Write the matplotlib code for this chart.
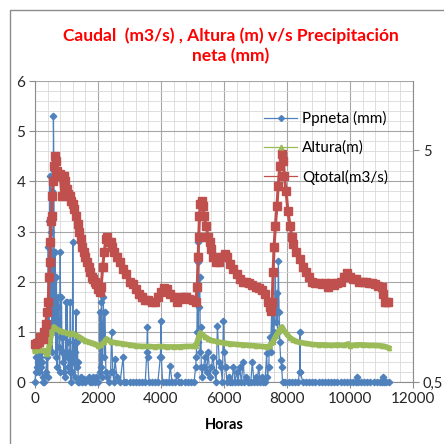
import numpy as np
import matplotlib.pyplot as plt
from matplotlib.patches import Rectangle
from matplotlib.lines import Line2D
from matplotlib.ticker import MultipleLocator, FixedLocator, NullLocator

plt.rcParams['font.family'] = ['Lato', 'DejaVu Sans']

# Ppneta (mm) - hours / values
ppn_h = [0, 20, 40, 60, 80, 100, 120, 140, 160, 180, 200, 220, 240, 260, 300, 340, 380, 400,
         420, 440, 460, 475, 490, 500, 510, 525, 540, 560, 575, 585, 600, 620, 640, 660, 680,
         700, 720, 740, 760, 780, 800, 820, 840, 860, 880, 900, 920, 940, 960, 980, 1000,
         1020, 1040, 1060, 1080, 1100, 1120, 1140, 1160, 1180, 1200, 1220, 1240, 1260, 1280,
         1300, 1320, 1340, 1360, 1380, 1400, 1450, 1500, 1550, 1600, 1700, 1750, 1800, 1850,
         1900, 1950, 2000, 2050, 2063, 2090, 2110, 2130, 2169, 2200, 2222, 2250, 2300, 2350,
         2400, 2434, 2470, 2500, 2540, 2600, 2700, 2800, 2830, 2900, 3000, 3100, 3200, 3300,
         3400, 3500, 3550, 3570, 3580, 3620, 3700, 3800, 3900, 3980, 4000, 4010, 4050, 4150,
         4250, 4290, 4350, 4450, 4520, 4560, 4650, 4750, 4850, 4950, 5050, 5100, 5120, 5140,
         5160, 5180, 5190, 5210, 5230, 5250, 5260, 5280, 5300, 5350, 5400, 5450, 5500, 5550,
         5600, 5650, 5700, 5750, 5790, 5850, 5900, 5950, 5980, 6010, 6050, 6100, 6150, 6200,
         6250, 6300, 6350, 6400, 6450, 6500, 6550, 6610, 6650, 6700, 6750, 6800, 6850, 6900,
         6950, 7000, 7050, 7100, 7150, 7200, 7250, 7300, 7355, 7380, 7420, 7450, 7480, 7510,
         7530, 7560, 7590, 7630, 7650, 7680, 7700, 7725, 7750, 7770, 7800, 7830, 7860, 7950,
         8050, 8150, 8250, 8350, 8400, 8413, 8420, 8500, 8600, 8700, 8800, 8900, 9000, 9100,
         9200, 9300, 9400, 9500, 9600, 9700, 9800, 9900, 10000, 10100, 10200, 10212, 10250,
         10350, 10450, 10550, 10650, 10750, 10850, 10950, 11000, 11037, 11080, 11150, 11230]
ppn_mm = [0, 0.2, 0.5, 0.3, 0.6, 0.4, 0.5, 0.2, 0.5, 0.3, 0.6, 0.4, 0.1, 0, 0, 0.2, 0.5, 0.1,
          2.7, 0.9, 3.2, 4.1, 1.5, 3.0, 2.5, 3.8, 0.6, 2.6, 1.2, 5.3, 4.2, 1.0, 2.6, 0.5, 2.1,
          0.3, 1.5, 1.7, 0.7, 0.2, 2.6, 0.9, 1.7, 0.6, 0.4, 0.9, 0.2, 0.6, 0.1, 1.6, 0.5,
          1.6, 0.8, 0.3, 0.6, 0.2, 1.6, 0, 0.5, 0.2, 2.8, 0.4, 0.8, 0.1, 0.6,
          1.4, 0.3, 0.8, 0.4, 0, 0, 0.1, 0, 0.05, 0, 0.1, 0, 0, 0.1,
          0, 0.1, 0, 0.2, 1.4, 0.3, 1.6, 0.1, 1.7, 0.5, 1.4, 0.2, 0.1, 0,
          0.2, 1.0, 0.2, 0, 0.45, 0.1, 0, 0.5, 0, 0, 0, 0, 0, 0,
          0, 0, 0.6, 1.1, 0.5, 0, 0, 0, 0, 0.5, 1.22, 0.5, 0, 0,
          0, 0.32, 0, 0, 0.13, 0, 0, 0, 0, 0, 0, 0.3, 0.5, 1.0,
          2.4, 0.8, 2.8, 1.5, 2.1, 0.6, 1.1, 0.3, 0.1, 0.3, 0.5, 0.2, 0.6, 0.1,
          0.3, 0.5, 0.2, 0, 1.12, 0.4, 0.3, 0, 1.22, 0.6, 0.3, 0, 0.1, 0,
          0, 0.3, 0, 0.2, 0, 0.3, 0, 0.4, 0, 0.1, 0, 0, 0, 0.4,
          0, 0.1, 0, 0.3, 0, 0.1, 0, 0, 0.57, 0.1, 0.3, 0.9, 0.6, 1.37,
          0.8, 1.5, 1.0, 2.2, 1.2, 1.77, 1.0, 2.41, 1.4, 0.8, 0.44, 0.3, 0, 0,
          0, 0, 0, 0, 0.2, 1.0, 0.2, 0, 0, 0, 0, 0, 0, 0,
          0, 0, 0, 0, 0, 0, 0, 0, 0, 0, 0, 0.1, 0,
          0, 0, 0, 0, 0, 0, 0, 0, 0.1, 0, 0, 0]

# Altura (m)
alt_h = [0, 100, 200, 300, 370, 420, 470, 530, 600, 700, 800, 900, 1000, 1100, 1200, 1300,
         1400, 1500, 1600, 1700, 1800, 1900, 2000, 2100, 2200, 2275, 2400, 2600, 2800, 3000,
         3200, 3400, 3600, 3800, 4000, 4200, 4400, 4600, 4800, 5000, 5100, 5150, 5200, 5250,
         5300, 5400, 5500, 5600, 5800, 6000, 6200, 6400, 6600, 6800, 7000, 7200, 7350, 7450,
         7550, 7650, 7750, 7840, 7900, 8000, 8100, 8200, 8300, 8400, 8600, 8800, 9000, 9200,
         9400, 9600, 9800, 9950, 10000, 10200, 10400, 10600, 10800, 11000, 11100, 11230]
alt_m = [0.62, 0.63, 0.63, 0.63, 0.55, 0.6, 0.8, 1.0, 1.1, 1.05, 1.02, 1.0, 0.98, 0.96, 0.97, 0.93,
         0.9, 0.86, 0.82, 0.8, 0.78, 0.76, 0.72, 0.74, 0.8, 0.86, 0.8, 0.78, 0.76, 0.74,
         0.72, 0.71, 0.71, 0.7, 0.71, 0.7, 0.7, 0.7, 0.71, 0.71, 0.72, 0.8, 0.9, 0.98,
         0.95, 0.9, 0.86, 0.83, 0.8, 0.78, 0.76, 0.75, 0.74, 0.73, 0.72, 0.71, 0.7, 0.72,
         0.8, 0.92, 1.02, 1.1, 1.03, 0.95, 0.88, 0.84, 0.81, 0.79, 0.77, 0.75, 0.74, 0.74,
         0.73, 0.74, 0.73, 0.76, 0.72, 0.74, 0.74, 0.73, 0.73, 0.72, 0.71, 0.68]

# Qtotal (m3/s)
q_h = [0, 60, 120, 160, 200, 250, 300, 340, 380, 420, 450, 470, 490, 510, 530, 550, 570, 600,
       630, 660, 690, 720, 760, 800, 850, 880, 920, 960, 1000, 1050, 1100, 1150, 1200, 1250,
       1300, 1350, 1400, 1450, 1500, 1550, 1600, 1650, 1700, 1750, 1800, 1850, 1900, 1950,
       2000, 2050, 2100, 2150, 2200, 2250, 2300, 2350, 2400, 2450, 2500, 2600, 2700, 2800,
       2900, 3000, 3100, 3200, 3300, 3400, 3500, 3600, 3700, 3800, 3900, 4000, 4100, 4200,
       4300, 4400, 4500, 4600, 4700, 4800, 4900, 5000, 5100, 5150, 5180, 5200, 5220, 5250,
       5290, 5330, 5380, 5430, 5500, 5550, 5600, 5660, 5750, 5850, 5950, 6030, 6100, 6200,
       6300, 6400, 6500, 6600, 6700, 6800, 6900, 7000, 7100, 7200, 7300, 7400, 7460, 7500,
       7530, 7560, 7590, 7630, 7680, 7720, 7770, 7830, 7880, 7920, 7970, 8030, 8100, 8150,
       8200, 8300, 8400, 8500, 8600, 8700, 8800, 8900, 9000, 9100, 9200, 9300, 9400, 9500,
       9600, 9700, 9800, 9900, 10000, 10100, 10200, 10300, 10400, 10500, 10600, 10700,
       10800, 10900, 11000, 11050, 11100, 11150, 11200]
q_m3s = [0.75, 0.78, 0.8, 0.9, 0.85, 0.85, 1.0, 1.15, 1.4, 1.6, 2.1, 2.4, 2.8, 3.2, 3.3, 3.7, 4.0, 4.3,
         4.5, 4.4, 4.2, 4.1, 4.1, 4.15, 3.7, 4.1, 4.1, 4.0, 3.85, 3.75, 3.7, 3.6, 3.55, 3.45,
         3.3, 3.15, 3.0, 2.85, 2.7, 2.6, 2.5, 2.4, 2.3, 2.2, 2.1, 2.05, 2.0, 1.95,
         1.85, 1.8, 1.9, 2.3, 2.6, 2.85, 2.9, 2.8, 2.8, 2.7, 2.6, 2.5, 2.4, 2.25,
         2.15, 2.0, 1.95, 1.85, 1.75, 1.7, 1.63, 1.63, 1.6, 1.6, 1.7, 1.8, 1.87, 1.85,
         1.75, 1.7, 1.6, 1.65, 1.7, 1.7, 1.65, 1.63, 1.6, 1.9, 2.5, 2.9, 3.3, 3.55,
         3.6, 3.5, 3.3, 3.1, 2.9, 2.8, 2.65, 2.5, 2.4, 2.4, 2.5, 2.56, 2.5, 2.35,
         2.25, 2.15, 2.05, 2.0, 2.0, 1.97, 1.93, 1.9, 1.88, 1.83, 1.75, 1.6, 1.5, 1.42,
         1.6, 2.2, 2.7, 3.1, 3.5, 3.9, 4.3, 4.55, 4.4, 4.1, 3.8, 3.4, 3.1, 2.9,
         2.76, 2.6, 2.45, 2.3, 2.2, 2.1, 2.0, 1.97, 1.97, 1.95, 1.97, 1.9, 1.97, 1.93,
         1.97, 2.0, 2.1, 2.17, 2.1, 2.05, 2.05, 2.0, 2.0, 2.0, 1.97, 1.97,
         1.95, 1.92, 1.9, 1.75, 1.6, 1.6, 1.6]

blue, green, red = '#4F81BD', '#9BBB59', '#C0504D'

fig = plt.figure(figsize=(4.44, 4.44), dpi=100)
ax = fig.add_axes([35 / 444, 1 - 382 / 444, 378 / 444, 301 / 444])

# chart area border (Excel style)
fig.patches.append(Rectangle((10 / 444, -0.05), 1.2, 1 - 10 / 444 + 0.05, transform=fig.transFigure,
                             fill=False, edgecolor='#8c8c8c', linewidth=1.0))

ax.plot(ppn_h, ppn_mm, color=blue, lw=0.9, marker='D', ms=3.3, mec=blue,
        zorder=3, clip_on=False)
ax.plot(alt_h, alt_m, color=green, lw=4, marker='^', ms=3, mec=green,
        zorder=4, clip_on=False)
ax.plot(q_h, q_m3s, color=red, lw=2.2, marker='s', ms=6, mec=red,
        zorder=5, clip_on=False)

ax.set_xlim(0, 12000)
ax.set_ylim(0, 6)
ax.xaxis.set_major_locator(MultipleLocator(2000))
ax.xaxis.set_minor_locator(MultipleLocator(400))
ax.yaxis.set_major_locator(MultipleLocator(1))
ax.yaxis.set_minor_locator(MultipleLocator(0.2))
ax.grid(which='major', color='#a6a6a6', lw=0.8)
ax.grid(which='minor', color='#d9d9d9', lw=0.6)
ax.set_axisbelow(True)
ax.tick_params(which='major', direction='out', length=4, color='#8c8c8c', labelsize=11,
               labelcolor='#262626', pad=3)
ax.tick_params(which='minor', length=0)
for s in ['top', 'right']:
    ax.spines[s].set_visible(False)
for s in ['left', 'bottom']:
    ax.spines[s].set_color('#8c8c8c')
ax.set_xlabel('Horas', fontsize=10.5, fontweight='bold', labelpad=9)

ax2 = ax.twinx()
ax2.set_yscale('log')
ax2.set_ylim(0.5, 9.92)
ax2.yaxis.set_major_locator(FixedLocator([0.5, 5]))
ax2.yaxis.set_minor_locator(NullLocator())
ax2.set_yticklabels(['0,5', '5'])
ax2.tick_params(direction='out', length=4, color='#8c8c8c', labelsize=10.5, labelcolor='#262626', pad=3)
for s in ['top', 'left', 'bottom']:
    ax2.spines[s].set_visible(False)
ax2.spines['right'].set_color('#8c8c8c')

handles = [Line2D([], [], color=blue, lw=0.9, marker='D', ms=3, mec=blue),
           Line2D([], [], color=green, lw=0.9, marker='^', ms=3.5, mec=green),
           Line2D([], [], color=red, lw=0.9, marker='s', ms=3.5, mec=red)]
ax2.legend(handles, ['Ppneta (mm)', 'Altura(m)', 'Qtotal(m3/s)'], loc='upper left',
           bbox_to_anchor=(0.585, 0.925), frameon=False, fontsize=11,
           handlelength=2.2, labelspacing=0.95, handletextpad=0.3, borderpad=0)

fig.text(0.52, 1 - 46 / 444, 'Caudal  (m3/s) , Altura (m) v/s Precipitación\nneta (mm)',
         ha='center', va='center', color='#ff0000', fontsize=12.5, fontweight='bold', linespacing=1.25)

fig.savefig('out.png', dpi=100)
